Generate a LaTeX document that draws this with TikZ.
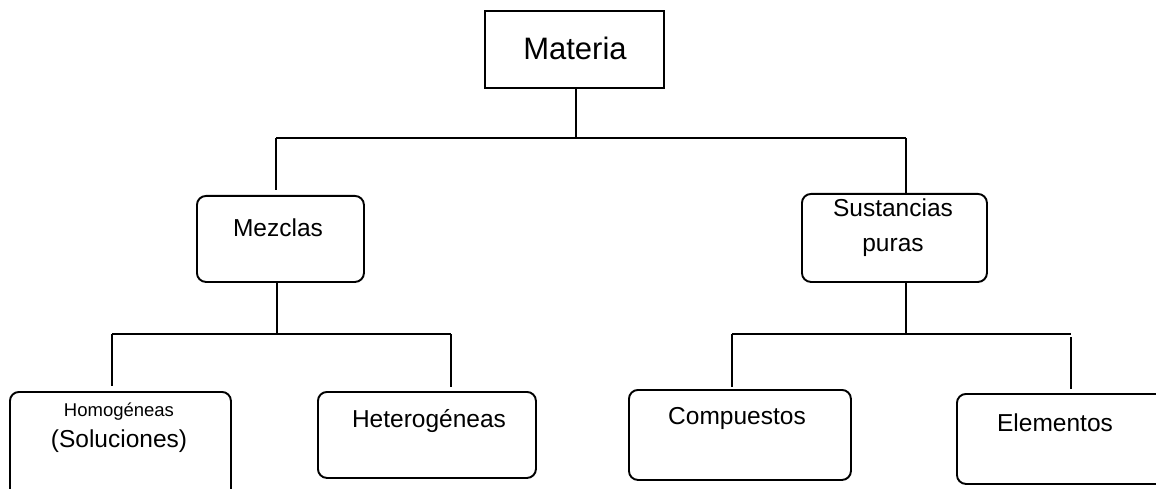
\documentclass[tikz,border=0pt]{standalone}
\usepackage{fontspec}
\setmainfont{Liberation Sans}
\begin{document}
\begin{tikzpicture}[x=1pt,y=-1pt,line width=1.9pt,
            every node/.style={inner sep=0pt},
            caja/.style={draw,anchor=north west,rounded corners=9pt},
            txt/.style={font=\fontsize{24.5}{35}\selectfont,align=center}]
            \useasboundingbox (0,0) rectangle (1156,489);
            % cajas
            \node[draw,anchor=north west,minimum width=179pt,minimum height=77pt] (materia) at (484,10) {};
            \node[caja,minimum width=167pt,minimum height=86pt] (mezclas) at (196,195) {};
            \node[caja,minimum width=185pt,minimum height=88pt] (sustancias) at (801,193) {};
            \node[caja,minimum width=221pt,minimum height=112pt] (homog) at (9,391) {};
            \node[caja,minimum width=218pt,minimum height=86pt] (heterog) at (317,391) {};
            \node[caja,minimum width=222pt,minimum height=90pt] (compuestos) at (628,389) {};
            \node[caja,minimum width=222pt,minimum height=90pt] (elementos) at (956,393) {};
            % textos
            \node[txt,font=\fontsize{31}{36}\selectfont] (tmat) at (575,48) {Materia};
            \node[txt] (tmez) at (278,228) {Mezclas};
            \node[txt] (tsus) at (893,228) {Sustancias\\puras};
            \node[txt,font=\fontsize{18.5}{20}\selectfont] (thom) at (119,412) {Homogéneas};
            \node[txt] (tsol) at (119,441) {(Soluciones)};
            \node[txt] (thet) at (429,421) {Heterogéneas};
            \node[txt] (tcom) at (737,418) {Compuestos};
            \node[txt] (tele) at (1055,423) {Elementos};
            % lineas
            \coordinate (b1) at (576,138);
            \coordinate (b1l) at (276,138);
            \coordinate (b1r) at (906,138);
            \draw (materia.south -| b1) -- (b1);
            \draw (b1l) -- (b1r);
            \draw[shorten >=5pt] (b1l) -- (b1l |- mezclas.north);
            \draw (b1r) -- (b1r |- sustancias.north);
            \coordinate (b2) at (277,334);
            \coordinate (b2l) at (112,334);
            \coordinate (b2r) at (451,334);
            \draw (mezclas.south -| b2) -- (b2);
            \draw (b2l) -- (b2r);
            \draw[shorten >=5pt] (b2l) -- (b2l |- homog.north);
            \draw[shorten >=4pt] (b2r) -- (b2r |- heterog.north);
            \coordinate (b3) at (906,334);
            \coordinate (b3l) at (732,334);
            \coordinate (b3r) at (1071,334);
            \draw (sustancias.south -| b3) -- (b3);
            \draw (b3l) -- (b3r);
            \draw[shorten >=2pt] (b3l) -- (b3l |- compuestos.north);
            \draw[shorten <=3pt,shorten >=4pt] (b3r) -- (b3r |- elementos.north);
\end{tikzpicture}
\end{document}
